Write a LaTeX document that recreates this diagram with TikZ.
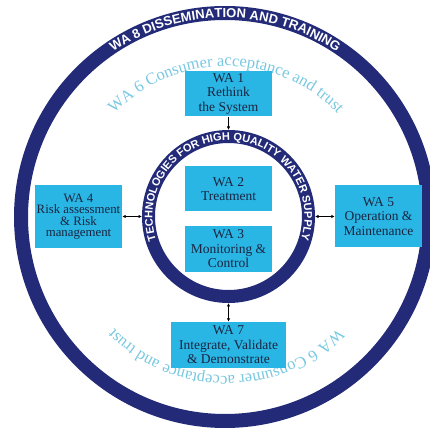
\documentclass[tikz,border=0pt]{standalone}
\usepackage{fontspec}
\setmainfont{Liberation Serif}
\newfontfamily\ringfont{Liberation Sans}
\usetikzlibrary{decorations.text,arrows.meta}
\definecolor{navy}{HTML}{232A78}
\definecolor{boxcyan}{HTML}{29B6E4}
\definecolor{lightcyan}{HTML}{78C8E1}
\definecolor{boxtext}{HTML}{1A2440}
\begin{document}
\begin{tikzpicture}[x=1pt,y=1pt,
  wabox/.style={fill=boxcyan, text=boxtext, align=center, inner sep=0pt,
    font=\fontsize{13.5}{14.5}\selectfont},
  ring/.style={circle, draw=navy, inner sep=0pt},
  tip/.style={line width=0.7pt, -{Latex[length=3.5pt,width=3.5pt]}},
  link/.style={line width=0.7pt, {Latex[length=3.5pt,width=3.5pt]}-{Latex[length=3.5pt,width=3.5pt]}},
]
\useasboundingbox (0,0) rectangle (430,432);
% rings
\node[ring, line width=14pt, minimum size=408pt] (outer) at (225,215) {};
\node[ring, line width=13pt, minimum size=160pt] (core) at (228.5,215.5) {};
% ring texts
\path[decorate, decoration={text along path, text align=center, text color=white,
  text={|\ringfont\bfseries\fontsize{13}{13}\selectfont|WA 8 DISSEMINATION AND TRAINING}}]
  (225,215) ++(150:199.3) arc[start angle=150, end angle=30, radius=199.3];
\path[decorate, decoration={text along path, text align=center, text color=white,
  text={|\ringfont\bfseries\fontsize{11}{11}\selectfont|TECHNOLOGIES FOR HIGH QUALITY WATER SUPPLY}}]
  (228.5,215.5) ++(235:76) arc[start angle=235, end angle=-55, radius=76];
% consumer texts
\path[decorate, decoration={text along path, text align=center, text color=lightcyan,
  text={|\fontsize{16.5}{16.5}\selectfont|WA 6 Consumer acceptance and trust}}]
  (226,212) ++(160:154) arc[start angle=160, end angle=20, radius=154];
\path[decorate, decoration={text along path, text align=center, text color=lightcyan,
  text={|\fontsize{16.5}{16.5}\selectfont|WA 6 Consumer acceptance and trust}}]
  (226,212) ++(-10:156) arc[start angle=-10, end angle=-170, radius=156];
% boxes
\node[wabox, minimum width=87pt, minimum height=45pt] (wa1) at (228.5,338) {WA 1\\Rethink\\the System};
\node[wabox, minimum width=87pt, minimum height=45pt] (wa2) at (228.5,243) {WA 2\\Treatment};
\node[wabox, minimum width=87pt, minimum height=46pt] (wa3) at (228.5,183) {WA 3\\Monitoring \&\\Control};
\node[wabox, minimum width=87pt, minimum height=63pt, font=\fontsize{12.8}{11.5}\selectfont] (wa4) at (78.5,215.5) {WA 4\\Risk assessment\\\& Risk\\management};
\node[wabox, minimum width=87pt, minimum height=62pt] (wa5) at (378.5,215.5) {WA 5\\Operation \&\\Maintenance};
\node[wabox, minimum width=115pt, minimum height=46pt] (wa7) at (228.5,87) {WA 7\\Integrate, Validate\\\& Demonstrate};
% connectors
\draw[tip] (wa1.south) -- (core.north);
\draw[link] (wa4.east) -- (core.west);
\draw[link] (core.east) -- (wa5.west);
\draw[link] (core.south) -- (wa7.north);
\end{tikzpicture}
\end{document}
